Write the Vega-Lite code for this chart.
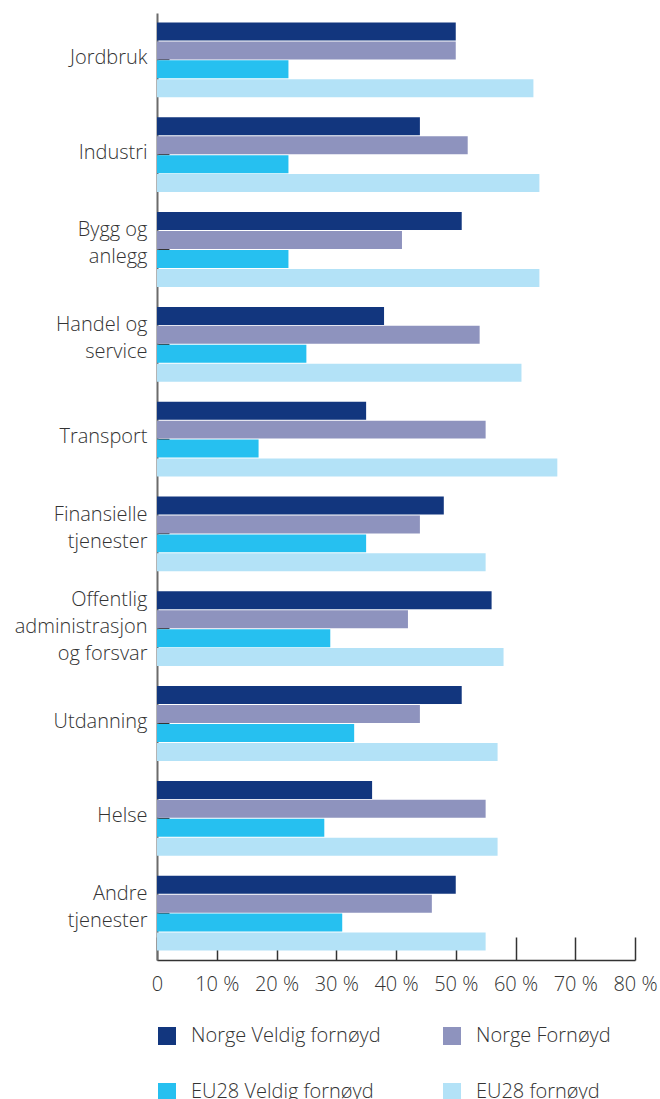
{
  "$schema": "https://vega.github.io/schema/vega-lite/v6.json",
  "autosize": "none",
  "padding": {"left": 157, "top": 13, "right": 25, "bottom": 139},
  "width": 478,
  "height": 947,
  "background": "white",
  "config": {
    "font": "Open Sans",
    "view": {"stroke": null},
    "axis": {"labelFont": "Open Sans", "labelFontWeight": 300, "labelColor": "#333333", "grid": false, "title": null}
  },
  "data": {
    "values": [
      {"kategori": "Jordbruk", "serie": "Norge Veldig fornøyd", "verdi": 50},
      {"kategori": "Jordbruk", "serie": "Norge Fornøyd", "verdi": 50},
      {"kategori": "Jordbruk", "serie": "EU28 Veldig fornøyd", "verdi": 22},
      {"kategori": "Jordbruk", "serie": "EU28 fornøyd", "verdi": 63},
      {"kategori": "Industri", "serie": "Norge Veldig fornøyd", "verdi": 44},
      {"kategori": "Industri", "serie": "Norge Fornøyd", "verdi": 52},
      {"kategori": "Industri", "serie": "EU28 Veldig fornøyd", "verdi": 22},
      {"kategori": "Industri", "serie": "EU28 fornøyd", "verdi": 64},
      {"kategori": "Bygg og\nanlegg", "serie": "Norge Veldig fornøyd", "verdi": 51},
      {"kategori": "Bygg og\nanlegg", "serie": "Norge Fornøyd", "verdi": 41},
      {"kategori": "Bygg og\nanlegg", "serie": "EU28 Veldig fornøyd", "verdi": 22},
      {"kategori": "Bygg og\nanlegg", "serie": "EU28 fornøyd", "verdi": 64},
      {"kategori": "Handel og\nservice", "serie": "Norge Veldig fornøyd", "verdi": 38},
      {"kategori": "Handel og\nservice", "serie": "Norge Fornøyd", "verdi": 54},
      {"kategori": "Handel og\nservice", "serie": "EU28 Veldig fornøyd", "verdi": 25},
      {"kategori": "Handel og\nservice", "serie": "EU28 fornøyd", "verdi": 61},
      {"kategori": "Transport", "serie": "Norge Veldig fornøyd", "verdi": 35},
      {"kategori": "Transport", "serie": "Norge Fornøyd", "verdi": 55},
      {"kategori": "Transport", "serie": "EU28 Veldig fornøyd", "verdi": 17},
      {"kategori": "Transport", "serie": "EU28 fornøyd", "verdi": 67},
      {"kategori": "Finansielle\ntjenester", "serie": "Norge Veldig fornøyd", "verdi": 48},
      {"kategori": "Finansielle\ntjenester", "serie": "Norge Fornøyd", "verdi": 44},
      {"kategori": "Finansielle\ntjenester", "serie": "EU28 Veldig fornøyd", "verdi": 35},
      {"kategori": "Finansielle\ntjenester", "serie": "EU28 fornøyd", "verdi": 55},
      {"kategori": "Offentlig\nadministrasjon\nog forsvar", "serie": "Norge Veldig fornøyd", "verdi": 56},
      {"kategori": "Offentlig\nadministrasjon\nog forsvar", "serie": "Norge Fornøyd", "verdi": 42},
      {"kategori": "Offentlig\nadministrasjon\nog forsvar", "serie": "EU28 Veldig fornøyd", "verdi": 29},
      {"kategori": "Offentlig\nadministrasjon\nog forsvar", "serie": "EU28 fornøyd", "verdi": 58},
      {"kategori": "Utdanning", "serie": "Norge Veldig fornøyd", "verdi": 51},
      {"kategori": "Utdanning", "serie": "Norge Fornøyd", "verdi": 44},
      {"kategori": "Utdanning", "serie": "EU28 Veldig fornøyd", "verdi": 33},
      {"kategori": "Utdanning", "serie": "EU28 fornøyd", "verdi": 57},
      {"kategori": "Helse", "serie": "Norge Veldig fornøyd", "verdi": 36},
      {"kategori": "Helse", "serie": "Norge Fornøyd", "verdi": 55},
      {"kategori": "Helse", "serie": "EU28 Veldig fornøyd", "verdi": 28},
      {"kategori": "Helse", "serie": "EU28 fornøyd", "verdi": 57},
      {"kategori": "Andre\ntjenester", "serie": "Norge Veldig fornøyd", "verdi": 50},
      {"kategori": "Andre\ntjenester", "serie": "Norge Fornøyd", "verdi": 46},
      {"kategori": "Andre\ntjenester", "serie": "EU28 Veldig fornøyd", "verdi": 31},
      {"kategori": "Andre\ntjenester", "serie": "EU28 fornøyd", "verdi": 55}
    ]
  },
  "mark": {"type": "bar"},
  "encoding": {
    "y": {
      "field": "kategori",
      "type": "nominal",
      "sort": null,
      "scale": {"paddingInner": 0.211, "paddingOuter": 0.1},
      "axis": {
        "labelExpr": "split(datum.value, '\\n')",
        "labelFontSize": 20,
        "labelLineHeight": 27,
        "labelPadding": 22,
        "labelOffset": {
          "condition": [
            {"test": "indexof(datum.value, 'Offentlig') == 0", "value": -29},
            {"test": "indexof(datum.value, '\\n') > 0", "value": -19}
          ],
          "value": -2
        },
        "labelLimit": 200,
        "tickSize": -12,
        "tickColor": "#333333",
        "tickWidth": 1.5,
        "domainColor": "#6b6b6b",
        "domainWidth": 2
      }
    },
    "yOffset": {
      "field": "serie",
      "type": "nominal",
      "sort": ["Norge Veldig fornøyd", "Norge Fornøyd", "EU28 Veldig fornøyd", "EU28 fornøyd"],
      "scale": {"paddingInner": 0.05}
    },
    "x": {
      "field": "verdi",
      "type": "quantitative",
      "scale": {"domain": [0, 80], "nice": false},
      "axis": {
        "values": [0, 10, 20, 30, 40, 50, 60, 70, 80],
        "labelExpr": "datum.value == 0 ? '0' : datum.value + ' %'",
        "labelFontSize": 20,
        "labelPadding": 37,
        "labelFlush": false,
        "labelOverlap": false,
        "tickSize": -23,
        "tickColor": "#333333",
        "tickWidth": 1.5,
        "domainColor": "#333333",
        "domainWidth": 1.5
      }
    },
    "color": {
      "field": "serie",
      "type": "nominal",
      "scale": {
        "domain": ["Norge Veldig fornøyd", "EU28 Veldig fornøyd", "Norge Fornøyd", "EU28 fornøyd"],
        "range": ["#12367e", "#26c0f0", "#8e93be", "#b3e2f7"]
      },
      "legend": {
        "title": null,
        "orient": "none",
        "legendX": 0,
        "legendY": 1013,
        "columns": 2,
        "padding": 0,
        "symbolType": "square",
        "symbolSize": 324,
        "symbolStrokeWidth": 0,
        "labelFont": "Open Sans",
        "labelFontWeight": 300,
        "labelFontSize": 20,
        "labelColor": "#333333",
        "labelOffset": 14,
        "labelLimit": 300,
        "rowPadding": 36,
        "columnPadding": 61
      }
    }
  }
}
